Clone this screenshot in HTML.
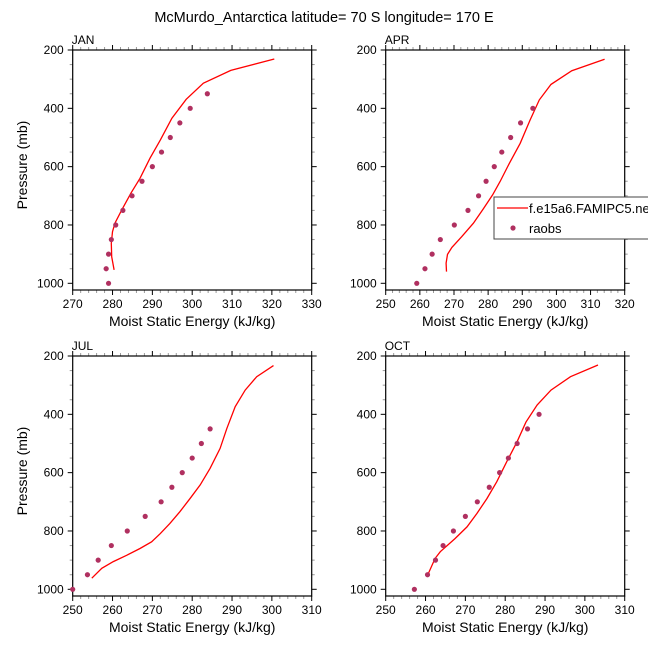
<!DOCTYPE html>
<html><head><meta charset="utf-8"><style>
body{margin:0;background:#fff;}
svg text{font-family:"Liberation Sans",sans-serif;}
</style></head><body>
<svg id="chart" width="648" height="648" viewBox="0 0 648 648" xmlns="http://www.w3.org/2000/svg">
<text x="324" y="22" font-size="14.5" text-anchor="middle">McMurdo_Antarctica  latitude= 70 S longitude= 170 E</text>
</svg>
<script>
// JAN
const janModelX=[320.6,309.7,302.8,298.5,294.9,292,289.4,286.9,284.6,282.3,280.6,280,279.7,279.8,280.4];
const janModelP=[231,270,314,369,434,509,571,640,691,749,794,823,863,909,954];
const janObsX=[279.0,278.4,279.0,279.7,280.8,282.6,284.9,287.4,290,292.3,294.5,296.9,299.5,303.8];
const janObsP=[1000,950,900,850,800,750,700,650,600,550,500,450,400,350];
// APR
const aprModelX=[314.1,304.5,298.4,295,292.3,289.4,286.2,283.5,281.3,278.6,275.7,272.3,269.4,268.1,267.7,267.8];
const aprModelP=[232,271,318,371,440,520,589,651,697,745,794,840,877,901,931,960];
const aprObsX=[259.1,261.5,263.6,266,270.1,274.1,277.2,279.4,281.8,284,286.6,289.5,293.1];
const aprObsP=[1000,950,900,850,800,750,700,650,600,550,500,450,400];
// JUL
const julModelX=[300.4,296.2,293.3,290.8,288.7,287,284.5,282,279.5,276.9,274.4,272,269.8,266.9,263.6,260.2,257.3,254.8];
const julModelP=[233,271,317,374,448,517,585,642,688,734,774,809,837,860,883,905,928,962];
const julObsX=[250,253.7,256.4,259.7,263.7,268.2,272.2,274.9,277.5,280,282.3,284.5];
const julObsP=[1000,950,900,850,800,750,700,650,600,550,500,450];
// OCT
const octModelX=[303.3,296.4,291.5,288,285.2,283,280.4,277.9,275.4,272.9,270.4,267.4,263.7,262.4,260.7];
const octModelP=[231,271,317,368,427,494,562,631,689,740,786,826,871,894,946];
const octObsX=[257.2,260.5,262.5,264.4,267,270,273,276,278.6,280.8,283,285.6,288.5];
const octObsP=[1000,950,900,850,800,750,700,650,600,550,500,450,400];
const pTicks=[200,400,600,800,1000];

const NS='http://www.w3.org/2000/svg';
const svg=document.getElementById('chart');
function mk(tag,attrs,parent){const e=document.createElementNS(NS,tag);for(const k in attrs)e.setAttribute(k,attrs[k]);(parent||svg).appendChild(e);return e;}

const panels=[
 {name:'jan',label:'JAN',mx:janModelX,mp:janModelP,ox:janObsX,op:janObsP,xmin:270,xmax:330,L:72.7,T:50,ylab:true},
 {name:'apr',label:'APR',mx:aprModelX,mp:aprModelP,ox:aprObsX,op:aprObsP,xmin:250,xmax:320,L:385.7,T:50,ylab:false,legend:true},
 {name:'jul',label:'JUL',mx:julModelX,mp:julModelP,ox:julObsX,op:julObsP,xmin:250,xmax:310,L:72.7,T:356,ylab:true},
 {name:'oct',label:'OCT',mx:octModelX,mp:octModelP,ox:octObsX,op:octObsP,xmin:250,xmax:310,L:385.7,T:356,ylab:false}
];
const W=239,H=240,pMax=200+800*H/233.3;
panels.forEach(pn=>{
 const g=mk('g',{});
 
 
 const xs=v=>pn.L+(v-pn.xmin)/(pn.xmax-pn.xmin)*W;
 const ys=p=>pn.T+(p-200)/(pMax-200)*H;
 const R=pn.L+W,B=pn.T+H;
 for(let v=pn.xmin;v<=pn.xmax+1e-6;v+=2){
  const major=Math.abs((v-pn.xmin)%10)<1e-6;const len=major?5:3;const c=major?'#000':'#999';
  mk('line',{x1:xs(v),x2:xs(v),y1:B,y2:B+len,stroke:c,'stroke-width':1},g);
  mk('line',{x1:xs(v),x2:xs(v),y1:pn.T,y2:pn.T-len,stroke:c,'stroke-width':1},g);
  if(major){const t=mk('text',{x:xs(v),y:B+18,'font-size':12,'text-anchor':'middle'},g);t.textContent=v;
   }
 }
 for(let p=200;p<=1000;p+=50){
  const major=p%200===0;const len=major?5:3;const c=major?'#000':'#999';
  mk('line',{x1:pn.L,x2:pn.L-len,y1:ys(p),y2:ys(p),stroke:c,'stroke-width':1},g);
  mk('line',{x1:R,x2:R+len,y1:ys(p),y2:ys(p),stroke:c,'stroke-width':1},g);
 }
 pTicks.forEach(p=>{const t=mk('text',{x:pn.L-9,y:ys(p)+4,'font-size':12,'text-anchor':'end'},g);t.textContent=p;
  });
 const fr=mk('rect',{x:pn.L,y:pn.T,width:W,height:H,fill:'none',stroke:'#000','stroke-width':1.2},g);
 
 const lb=mk('text',{x:pn.L-1,y:pn.T-6,'font-size':12},g);lb.textContent=pn.label;
 
 const xt=mk('text',{x:pn.L+W/2,y:B+36,'font-size':14,'text-anchor':'middle'},g);xt.textContent='Moist Static Energy (kJ/kg)';
 
 if(pn.ylab){const yt=mk('text',{x:0,y:0,'font-size':14,'text-anchor':'middle',transform:`translate(27,${pn.T+H/2-5}) rotate(-90)`},g);yt.textContent='Pressure (mb)';
  }
 const pts=pn.mx.map((v,i)=>xs(v).toFixed(1)+','+ys(pn.mp[i]).toFixed(1)).join(' ');
 const ln=mk('polyline',{points:pts,fill:'none',stroke:'#f00','stroke-width':1.3},g);
 
 pn.ox.forEach((v,i)=>{const c=mk('circle',{cx:xs(v),cy:ys(pn.op[i]),r:2.6,fill:'#b03060'},g);
  });
 if(pn.legend){
  const lg=mk('g',{},g);
  
  mk('rect',{x:494,y:197,width:160,height:42,fill:'#fff',stroke:'#444','stroke-width':1},lg);
  mk('line',{x1:497,x2:528,y1:208,y2:208,stroke:'#f00','stroke-width':1.3},lg);
  const t1=mk('text',{x:529,y:213,'font-size':13},lg);t1.textContent='f.e15a6.FAMIPC5.ne';
  
  mk('circle',{cx:513,cy:228,r:2.6,fill:'#b03060'},lg);
  const t2=mk('text',{x:529,y:233,'font-size':13},lg);t2.textContent='raobs';
  
 }
});
</script>
</body></html>
